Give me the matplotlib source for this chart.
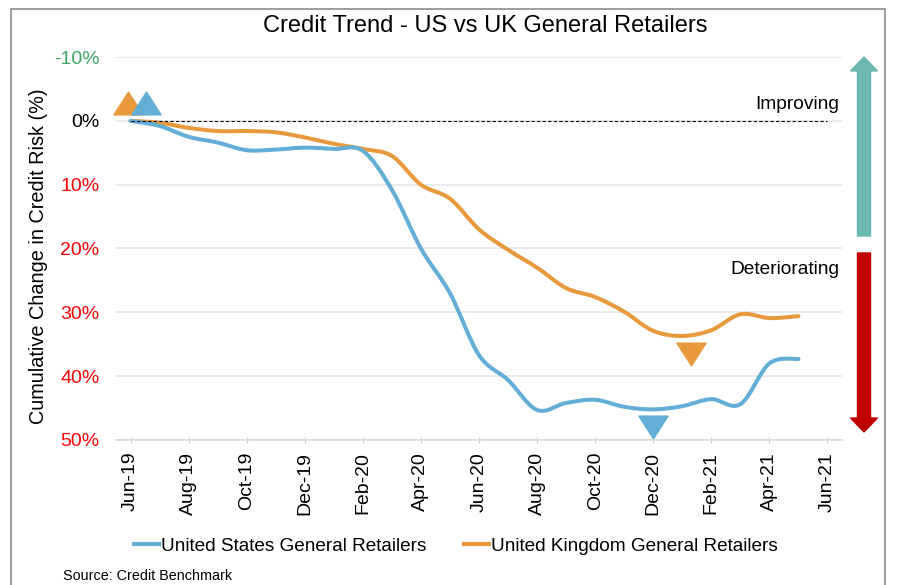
import numpy as np
import matplotlib
matplotlib.use("Agg")
import matplotlib.pyplot as plt
from matplotlib.path import Path
from matplotlib.patches import PathPatch, FancyArrow, Rectangle
from matplotlib.lines import Line2D

plt.rcParams["font.family"] = ["Liberation Sans", "DejaVu Sans"]

# Monthly cumulative change in credit risk (%), Jun-19 .. May-21
us = [0.0, 0.8, 2.5, 3.4, 4.6, 4.5, 4.2, 4.4, 4.7, 10.8, 20.0, 27.0,
      36.7, 40.6, 45.3, 44.2, 43.7, 44.8, 45.2, 44.7, 43.6, 44.4, 38.0, 37.3]
uk = [0.0, 0.3, 1.1, 1.6, 1.6, 1.8, 2.6, 3.6, 4.4, 5.5, 10.0, 12.2,
      17.0, 20.2, 23.0, 26.2, 27.6, 29.9, 32.9, 33.7, 32.8, 30.3, 30.9, 30.6]
tick_labels = ["Jun-19", "Aug-19", "Oct-19", "Dec-19", "Feb-20", "Apr-20", "Jun-20",
               "Aug-20", "Oct-20", "Dec-20", "Feb-21", "Apr-21", "Jun-21"]
y_ticks = [-10, 0, 10, 20, 30, 40, 50]

# best / worst point markers (month index, value)
us_up = (0.55, -2.8)
uk_up = (-0.1, -2.8)
us_down = (18.0, 48.0)
uk_down = (19.3, 36.5)

blue = "#63AED6"
orange = "#E8993B"
teal = "#6BB9AE"
darkred = "#C00000"

# flattened triangles like the original chart
tri_up = [(-1, -0.78), (1, -0.78), (0, 0.78), (-1, -0.78)]
tri_down = [(-1, 0.78), (1, 0.78), (0, -0.78), (-1, 0.78)]


def smooth_path(ys):
    # Excel-like smoothed line: cubic bezier through every point
    pts = np.column_stack([np.arange(len(ys)), ys]).astype(float)
    verts = [pts[0]]
    codes = [Path.MOVETO]
    n = len(pts)
    for i in range(n - 1):
        p0 = pts[max(i - 1, 0)]
        p1 = pts[i]
        p2 = pts[i + 1]
        p3 = pts[min(i + 2, n - 1)]
        c1 = p1 + (p2 - p0) / 6
        c2 = p2 - (p3 - p1) / 6
        verts += [c1, c2, p2]
        codes += [Path.CURVE4] * 3
    return Path(verts, codes)


fig = plt.figure(figsize=(8.97, 5.85), dpi=100)
ax = fig.add_axes([116 / 897, 1 - 440 / 585, (842 - 116) / 897, (440 - 57) / 585])

ax.set_xlim(-0.5, 24.5)
ax.set_ylim(50, -10)
ax.set_yticks(y_ticks)
ax.set_yticklabels([f"{v}%" for v in y_ticks])
for lab, v in zip(ax.get_yticklabels(), y_ticks):
    lab.set_color("#3DA566" if v < 0 else ("black" if v == 0 else "#FF0000"))
ax.tick_params(axis="y", length=0, labelsize=14, pad=12)
ax.grid(axis="y", color="#E6E6E6", lw=1.2)
ax.set_axisbelow(True)

ax.set_xticks(range(0, 25, 2))
ax.set_xticklabels(tick_labels, rotation=90)
ax.tick_params(axis="x", direction="inout", length=5, color="#C8C8C8", labelsize=14, pad=6)

for s in ["top", "right", "left"]:
    ax.spines[s].set_visible(False)
ax.spines["bottom"].set_color("#D9D9D9")
ax.spines["bottom"].set_linewidth(1.2)

ax.plot([0, 24], [0, 0], color="black", lw=0.8, ls=(0, (3, 2)))

ax.add_patch(PathPatch(smooth_path(uk), fill=False, edgecolor=orange, lw=2.9,
                       capstyle="round", joinstyle="round"))
ax.add_patch(PathPatch(smooth_path(us), fill=False, edgecolor=blue, lw=2.9,
                       capstyle="round", joinstyle="round"))

ax.plot(*uk_up, marker=tri_up, color=orange, ms=21, clip_on=False)
ax.plot(*us_up, marker=tri_up, color=blue, ms=21, clip_on=False)
ax.plot(*uk_down, marker=tri_down, color=orange, ms=21, clip_on=False)
ax.plot(*us_down, marker=tri_down, color=blue, ms=21, clip_on=False)

ax.set_ylabel("Cumulative Change in Credit Risk (%)", fontsize=14.3)
ax.yaxis.set_label_coords(-0.093, 0.48)
ax.text(24.4, -2.6, "Improving", ha="right", va="center", fontsize=13.8)
ax.text(24.4, 23.3, "Deteriorating", ha="right", va="center", fontsize=13.8)

fig.text(485 / 897, 1 - 26 / 585, "Credit Trend - US vs UK General Retailers",
         ha="center", va="center", fontsize=17)

# direction arrows at the right
fig.add_artist(FancyArrow(864 / 897, 1 - 236 / 585, 0, (236 - 57) / 585,
                          width=13 / 897, head_width=27 / 897, head_length=14 / 585,
                          length_includes_head=True, color=teal,
                          transform=fig.transFigure))
fig.add_artist(FancyArrow(864 / 897, 1 - 253 / 585, 0, -(432 - 253) / 585,
                          width=13 / 897, head_width=27 / 897, head_length=14 / 585,
                          length_includes_head=True, color=darkred,
                          transform=fig.transFigure))

handles = [Line2D([], [], color=blue, lw=3), Line2D([], [], color=orange, lw=3)]
fig.legend(handles, ["United States General Retailers", "United Kingdom General Retailers"],
           loc="center", bbox_to_anchor=(456 / 897, 1 - 546 / 585), ncol=2,
           frameon=False, fontsize=13.7, handlelength=1.3, handletextpad=0.1,
           columnspacing=2.0)

fig.text(63 / 897, 1 - 576 / 585, "Source: Credit Benchmark", ha="left", va="center",
         fontsize=10.4)

fig.add_artist(Rectangle((11 / 897, -0.05), (885 - 11) / 897, 1.05 - 9 / 585,
                         transform=fig.transFigure, fill=False, edgecolor="#8C8C8C",
                         lw=1.2))

fig.savefig("out.png", dpi=100)
